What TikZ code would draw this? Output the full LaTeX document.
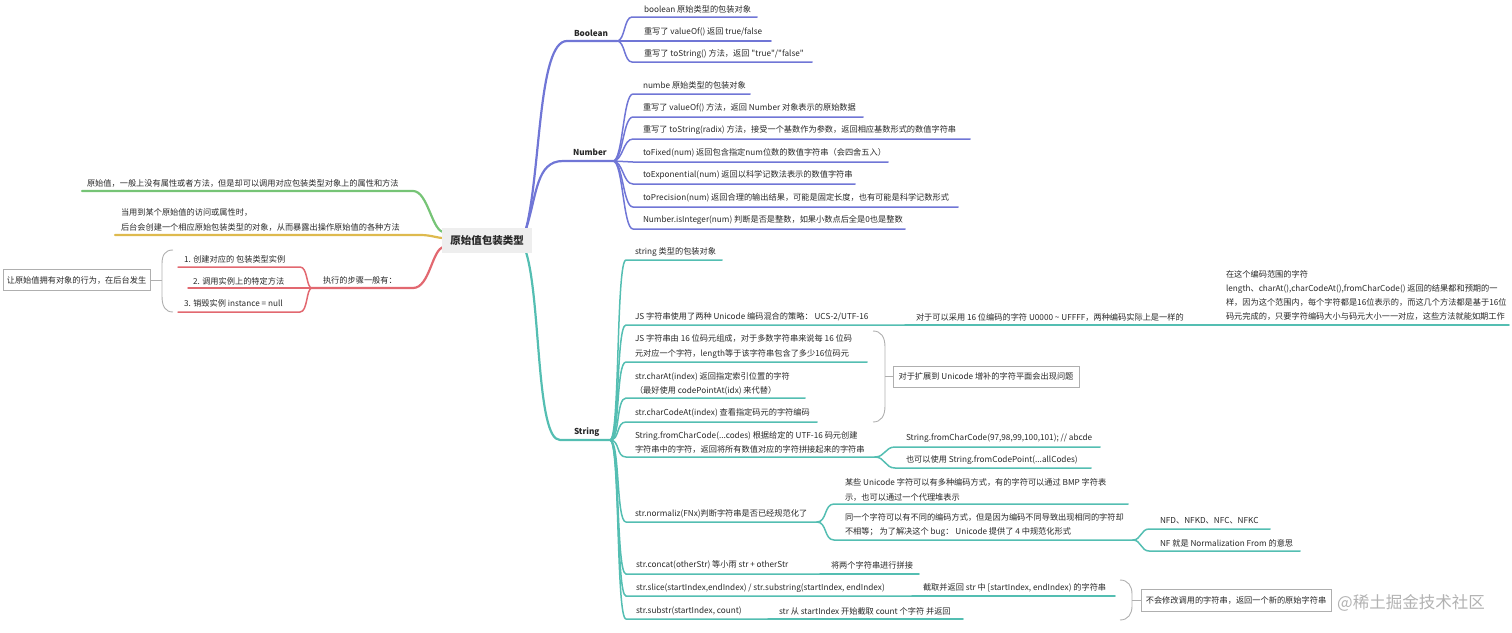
\documentclass[tikz,border=0pt]{standalone}
\usepackage{fontspec}
\setmainfont{Noto Sans CJK SC}
\newfontfamily\rawf{Noto Sans CJK SC}
\newcommand{\mfs}{\fontsize{8.2}{14.2}\selectfont}
\definecolor{cpur}{RGB}{112,118,214}
\definecolor{cteal}{RGB}{84,190,178}
\definecolor{cgrn}{RGB}{118,196,118}
\definecolor{cgold}{RGB}{222,186,78}
\definecolor{cred}{RGB}{226,104,112}
\definecolor{cgray}{RGB}{175,175,175}
\definecolor{ctext}{RGB}{40,40,40}
\definecolor{croot}{RGB}{238,238,238}
\tikzset{
 tx/.style={anchor=west, inner sep=0pt, outer sep=0pt, font=\mfs, text=ctext, align=left},
 lbl/.style={tx, font=\mfs\bfseries},
 br/.style={line width=1.5pt, line cap=round},
 pu/.style={br, draw=cpur}, te/.style={br, draw=cteal}, gr/.style={br, draw=cgrn},
 go/.style={br, draw=cgold}, re/.style={br, draw=cred},
 mainw/.style={line width=2.2pt},
 brk/.style={draw=cgray, line width=0.9pt},
 sbox/.style={draw=cgray, line width=0.9pt, fill=white, inner xsep=4pt, inner ysep=5pt, font=\mfs, text=ctext}
}
\begin{document}
\begin{tikzpicture}[x=1pt,y=-1pt]
\useasboundingbox (0,0) rectangle (1512,632);
% root anchor points
\coordinate (rP) at (526,229);
\coordinate (rT) at (526,252);
\coordinate (rG) at (444,232);
\coordinate (rY) at (444,238);
\coordinate (rR) at (444,247);

% ================= LEFT =================
\node[tx] (g1) at (87,183) {原始值，一般上没有属性或者方法，但是却可以调用对应包装类型对象上的属性和方法};
\coordinate (g1s) at (82,191); \coordinate (g1e) at (413,191);
\draw[gr,mainw] (g1s) -- (g1e) .. controls (428,191) and (432,232) .. (rG);

\node[tx] (y1) at (121,220) {当用到某个原始值的访问或属性时，\\后台会创建一个相应原始包装类型的对象，从而暴露出操作原始值的各种方法};
\coordinate (y1s) at (115,235); \coordinate (y1e) at (420,235);
\draw[go,mainw] (y1s) -- (y1e) .. controls (432,235) and (436,238) .. (rY);

\node[tx] (r0) at (323,280) {执行的步骤一般有：};
\coordinate (r0s) at (312,288); \coordinate (r0e) at (413,288);
\draw[re,mainw] (r0s) -- (r0e) .. controls (430,288) and (432,248) .. (rR);

\node[tx] (r1) at (184,259) {1. 创建对应的 包装类型实例};
\coordinate (r1s) at (178,267); \coordinate (r1e) at (300,267);
\draw[re] (r1s) -- (r1e) .. controls +(8,0) and +(-6,0) .. (r0s);
\node[tx] (r2) at (193,281) {2. 调用实例上的特定方法};
\coordinate (r2s) at (188,288);
\draw[re] (r2s) -- (r0s);
\node[tx] (r3) at (184,303) {3. 销毁实例 instance = null};
\coordinate (r3s) at (178,312); \coordinate (r3e) at (300,312);
\draw[re] (r3s) -- (r3e) .. controls +(8,0) and +(-6,0) .. (r0s);

\node[sbox, minimum width=147pt, minimum height=21pt, inner sep=0pt] (lbox) at (76.5,280) {让原始值拥有对象的行为，在后台发生};
\draw[brk] (173,250) .. controls (165,250) and (162,255) .. (162,264) -- (162,296) .. controls (162,306) and (165,312) .. (173,312);
\coordinate (lbt) at (162,280);
\draw[brk] (lbt) -- (lbox.east);

% ================= BOOLEAN =================
\node[lbl] (bool) at (574,33) {Boolean};
\coordinate (boS) at (567,41); \coordinate (boE) at (617,41);
\draw[pu,mainw] (rP) .. controls (541,170) and (538,41) .. (boS) -- (boE);

\node[tx] (b1) at (644,9) {boolean 原始类型的包装对象};
\coordinate (b1s) at (632,17); \coordinate (b1e) at (757,17);
\draw[pu] (boE) .. controls +(8,0) and +(-8,0) .. (b1s) -- (b1e);
\node[tx] (b2) at (644,32) {重写了 valueOf() 返回 true/false};
\coordinate (b2s) at (632,41); \coordinate (b2e) at (771,41);
\draw[pu] (boE) -- (b2s) -- (b2e);
\node[tx] (b3) at (644,54) {重写了 toString() 方法，返回 {\rawf "true"/"false"}};
\coordinate (b3s) at (632,62); \coordinate (b3e) at (812,62);
\draw[pu] (boE) .. controls +(8,0) and +(-8,0) .. (b3s) -- (b3e);

% ================= NUMBER =================
\node[lbl] (num) at (573,152) {Number};
\coordinate (nuS) at (563,161); \coordinate (nuE) at (613,161);
\draw[pu,mainw] (rP) .. controls (537,195) and (536,161) .. (nuS) -- (nuE);

\node[tx] (n1) at (643,85) {numbe 原始类型的包装对象};
\coordinate (n1s) at (633,94); \coordinate (n1e) at (750,94);
\draw[pu] (nuE) .. controls +(10,0) and +(-10,0) .. (n1s) -- (n1e);
\node[tx] (n2) at (643,108) {重写了 valueOf() 方法，返回 Number 对象表示的原始数据};
\coordinate (n2s) at (633,117); \coordinate (n2e) at (863,117);
\draw[pu] (nuE) .. controls +(10,0) and +(-10,0) .. (n2s) -- (n2e);
\node[tx] (n3) at (643,130) {重写了 toString(radix) 方法，接受一个基数作为参数，返回相应基数形式的数值字符串};
\coordinate (n3s) at (633,139); \coordinate (n3e) at (970,139);
\draw[pu] (nuE) .. controls +(10,0) and +(-10,0) .. (n3s) -- (n3e);
\node[tx] (n4) at (643,153) {toFixed(num) 返回包含指定num位数的数值字符串（会四舍五入）};
\coordinate (n4s) at (633,162); \coordinate (n4e) at (888,162);
\draw[pu] (nuE) .. controls +(10,0) and +(-10,0) .. (n4s) -- (n4e);
\node[tx] (n5) at (643,175) {toExponential(num) 返回以科学记数法表示的数值字符串};
\coordinate (n5s) at (633,184); \coordinate (n5e) at (855,184);
\draw[pu] (nuE) .. controls +(10,0) and +(-10,0) .. (n5s) -- (n5e);
\node[tx] (n6) at (643,198) {toPrecision(num) 返回合理的输出结果，可能是固定长度，也有可能是科学记数形式};
\coordinate (n6s) at (633,207); \coordinate (n6e) at (958,207);
\draw[pu] (nuE) .. controls +(10,0) and +(-10,0) .. (n6s) -- (n6e);
\node[tx] (n7) at (643,220) {Number.isInteger(num) 判断是否是整数，如果小数点后全是0也是整数};
\coordinate (n7s) at (633,229); \coordinate (n7e) at (905,229);
\draw[pu] (nuE) .. controls +(10,0) and +(-10,0) .. (n7s) -- (n7e);

% ================= STRING =================
\node[lbl] (str) at (574,432) {String};
\coordinate (stS) at (560,440); \coordinate (stE) at (610,440);
\draw[te,mainw] (rT) .. controls (541,300) and (536,440) .. (stS) -- (stE);

\node[tx] (s1) at (635,252) {string 类型的包装对象};
\coordinate (s1s) at (626,260); \coordinate (s1e) at (722,260);
\draw[te] (stE) .. controls +(10,0) and +(-10,0) .. (s1s) -- (s1e);

\node[tx] (s2) at (635,317) {JS 字符串使用了两种 Unicode 编码混合的策略：  UCS-2/UTF-16};
\coordinate (s2s) at (626,325); \coordinate (s2e) at (905,325);
\draw[te] (stE) .. controls +(10,0) and +(-10,0) .. (s2s) -- (s2e);
\node[tx] (s2a) at (916,317) {对于可以采用 16 位编码的字符 U0000 \textasciitilde{} UFFFF，两种编码实际上是一样的};
\coordinate (s2as) at (905,325); \coordinate (s2ae) at (1215,325);
\draw[te] (s2e) -- (s2as) -- (s2ae);
\node[tx] (s2b) at (1226,295.5) {在这个编码范围的字符\\length、charAt(),charCodeAt(),fromCharCode() 返回的结果都和预期的一\\样，因为这个范围内，每个字符都是16位表示的，而这几个方法都是基于16位\\码元完成的，只要字符编码大小与码元大小一一对应，这些方法就能如期工作};
\coordinate (s2bs) at (1215,325); \coordinate (s2be) at (1509,325);
\draw[te] (s2ae) -- (s2bs) -- (s2be);

\node[tx] (s3) at (635,346.5) {JS 字符串由 16 位码元组成，对于多数字符串来说每 16 位码\\元对应一个字符，length等于该字符串包含了多少16位码元};
\coordinate (s3s) at (626,362); \coordinate (s3e) at (867,362);
\draw[te] (stE) .. controls +(10,0) and +(-10,0) .. (s3s) -- (s3e);
\node[tx] (s4) at (635,383.5) {str.charAt(index) 返回指定索引位置的字符\\（最好使用 codePointAt(idx) 来代替）};
\coordinate (s4s) at (626,398); \coordinate (s4e) at (805,398);
\draw[te] (stE) .. controls +(10,0) and +(-10,0) .. (s4s) -- (s4e);
\node[tx] (s5) at (635,413) {str.charCodeAt(index) 查看指定码元的字符编码};
\coordinate (s5s) at (626,422); \coordinate (s5e) at (817,422);
\draw[te] (stE) .. controls +(10,0) and +(-10,0) .. (s5s) -- (s5e);

\draw[brk] (873,331) .. controls (881,331) and (885,337) .. (885,347) -- (885,406) .. controls (885,416) and (881,422) .. (873,422);
\node[sbox, minimum width=186pt, minimum height=21pt, inner sep=0pt] (ubox) at (986,376.5) {对于扩展到 Unicode 增补的字符平面会出现问题};
\coordinate (ubt) at (885,376.5);
\draw[brk] (ubt) -- (ubox.west);

\node[tx] (s6) at (635,442.5) {String.fromCharCode(...codes) 根据给定的 UTF-16 码元创建\\字符串中的字符，返回将所有数值对应的字符拼接起来的字符串};
\coordinate (s6s) at (626,457); \coordinate (s6e) at (875,457);
\draw[te] (stE) .. controls +(10,0) and +(-10,0) .. (s6s) -- (s6e);
\node[tx] (s6a) at (906,438) {String.fromCharCode(97,98,99,100,101); // abcde};
\coordinate (s6as) at (895,447); \coordinate (s6ae) at (1100,447);
\draw[te] (s6e) .. controls +(10,0) and +(-10,0) .. (s6as) -- (s6ae);
\node[tx] (s6b) at (906,460) {也可以使用 String.fromCodePoint(...allCodes)};
\coordinate (s6bs) at (895,468); \coordinate (s6be) at (1091,468);
\draw[te] (s6e) .. controls +(10,0) and +(-10,0) .. (s6bs) -- (s6be);

\node[tx] (s7) at (635,514) {str.normaliz(FNx)判断字符串是否已经规范化了};
\coordinate (s7s) at (626,522); \coordinate (s7e) at (817,522);
\draw[te] (stE) .. controls +(10,0) and +(-10,0) .. (s7s) -- (s7e);
\node[tx] (s7a) at (845,490) {某些 Unicode 字符可以有多种编码方式，有的字符可以通过 BMP 字符表\\示，也可以通过一个代理堆表示};
\coordinate (s7as) at (834,504); \coordinate (s7ae) at (1128,504);
\draw[te] (s7e) .. controls +(10,0) and +(-10,0) .. (s7as) -- (s7ae);
\node[tx] (s7b) at (845,525) {同一个字符可以有不同的编码方式，但是因为编码不同导致出现相同的字符却\\不相等；  为了解决这个 bug：  Unicode 提供了 4 中规范化形式};
\coordinate (s7bs) at (834,540); \coordinate (s7be) at (1133,540);
\draw[te] (s7e) .. controls +(10,0) and +(-10,0) .. (s7bs) -- (s7be);
\node[tx] (s7c) at (1160,521) {NFD、NFKD、NFC、NFKC};
\coordinate (s7cs) at (1149,529); \coordinate (s7ce) at (1270,529);
\draw[te] (s7be) .. controls +(8,0) and +(-8,0) .. (s7cs) -- (s7ce);
\node[tx] (s7d) at (1160,543) {NF 就是 Normalization From 的意思};
\coordinate (s7ds) at (1149,551); \coordinate (s7de) at (1300,551);
\draw[te] (s7be) .. controls +(8,0) and +(-8,0) .. (s7ds) -- (s7de);

\node[tx] (s8) at (636,565) {str.concat(otherStr) 等小雨 str + otherStr};
\coordinate (s8s) at (626,574); \coordinate (s8e) at (820,574);
\draw[te] (stE) .. controls +(10,0) and +(-10,0) .. (s8s) -- (s8e);
\node[tx] (s8a) at (831,565) {将两个字符串进行拼接};
\coordinate (s8ae) at (919,574);
\draw[te] (s8e) -- (s8ae);

\node[tx] (s9) at (636,588) {str.slice(startIndex,endIndex) / str.substring(startIndex, endIndex)};
\coordinate (s9s) at (626,596); \coordinate (s9e) at (912,596);
\draw[te] (stE) .. controls +(10,0) and +(-10,0) .. (s9s) -- (s9e);
\node[tx] (s9a) at (923,588) {截取并返回 str 中 [startIndex, endIndex) 的字符串};
\coordinate (s9ae) at (1115,596);
\draw[te] (s9e) -- (s9ae);

\node[tx] (s10) at (636,611) {str.substr(startIndex, count)};
\coordinate (s10s) at (626,619); \coordinate (s10e) at (768,619);
\draw[te] (stE) .. controls +(10,0) and +(-10,0) .. (s10s) -- (s10e);
\node[tx] (s10a) at (779,611) {str 从 startIndex 开始截取 count 个字符 并返回};
\coordinate (s10ae) at (963,619);
\draw[te] (s10e) -- (s10ae);

\draw[brk] (1120,580) .. controls (1128,580) and (1132,586) .. (1132,594) -- (1132,606) .. controls (1132,614) and (1128,620) .. (1120,620);
\node[sbox, minimum width=190pt, minimum height=22pt, inner sep=0pt] (rbox) at (1236,600.5) {不会修改调用的字符串，返回一个新的原始字符串};
\coordinate (rbt) at (1132,600.5);
\draw[brk] (rbt) -- (rbox.west);

\node[anchor=west, inner sep=0pt, text=black!30, font=\fontsize{16.5}{18}\selectfont] (wm) at (1337,603) {@稀土掘金技术社区};

% root node on top
\node[fill=croot, minimum width=90pt, minimum height=25pt, inner sep=0pt, text=ctext, font=\bfseries\fontsize{10.5}{12}\selectfont] (root) at (487,240.5) {原始值包装类型};
\end{tikzpicture}
\end{document}
